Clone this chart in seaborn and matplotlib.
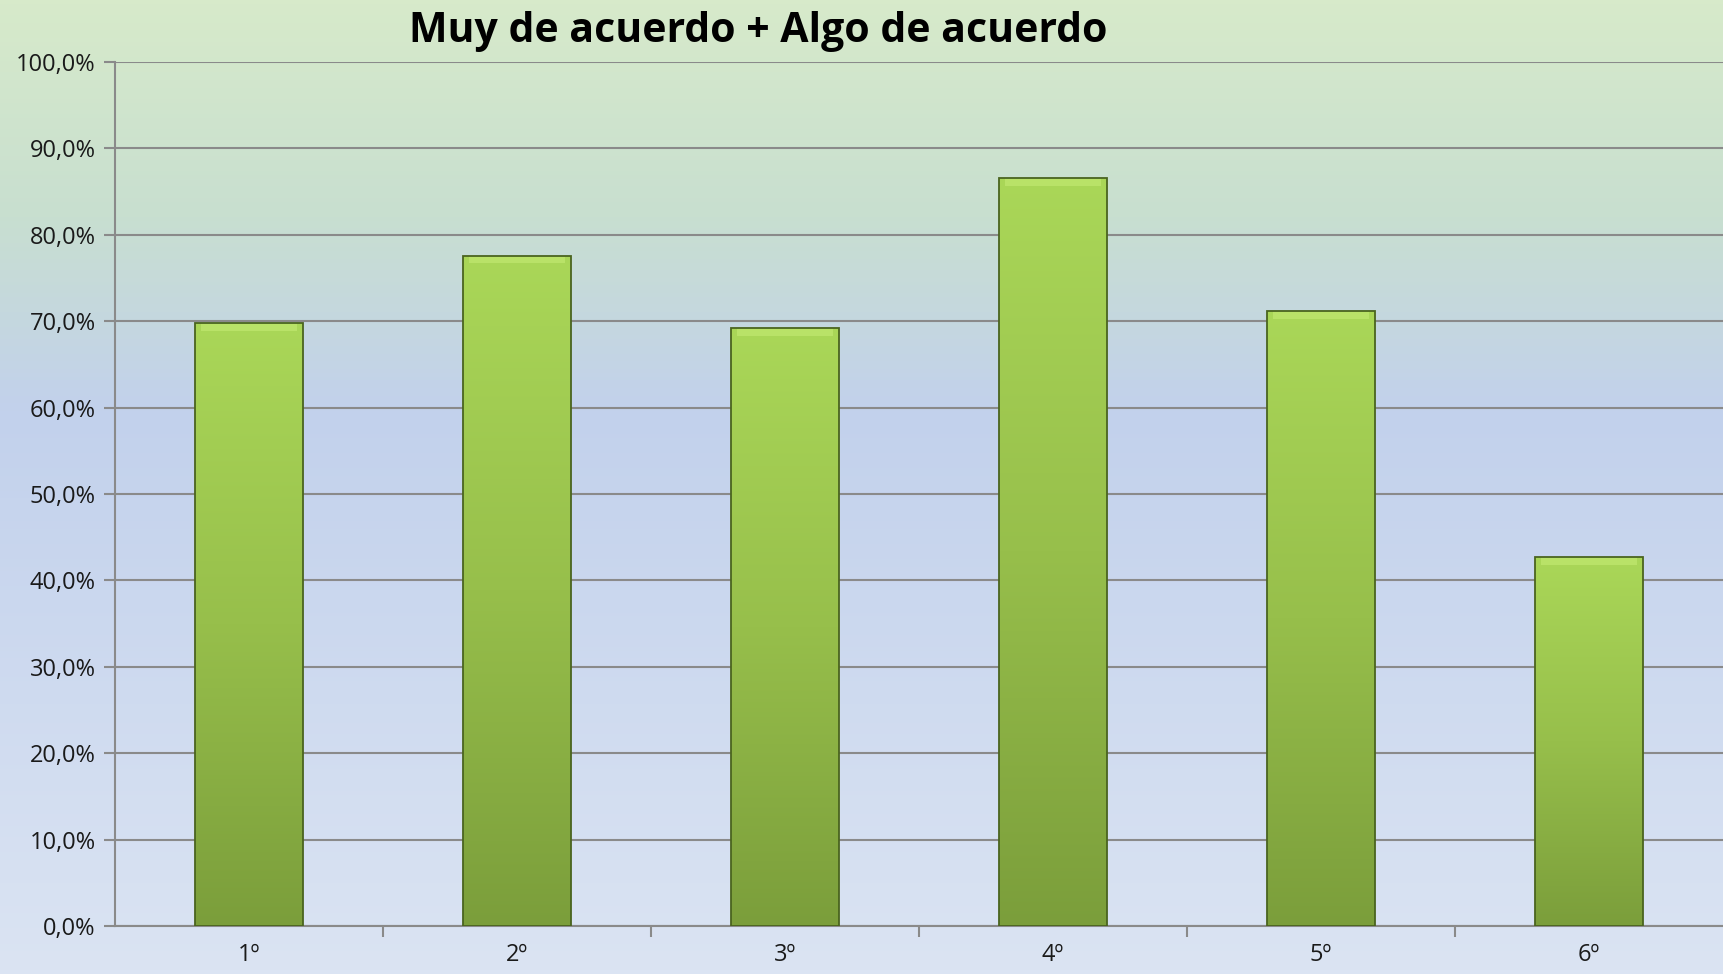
import numpy as np
import pandas as pd
import seaborn as sns
import matplotlib.pyplot as plt
from matplotlib.colors import LinearSegmentedColormap
from matplotlib.ticker import FuncFormatter, FixedLocator

# datos
cursos = ["1º", "2º", "3º", "4º", "5º", "6º"]
porcentajes = [69.8, 77.6, 69.2, 86.6, 71.2, 42.7]
titulo = "Muy de acuerdo + Algo de acuerdo"
marcas_y = list(range(0, 101, 10))

df = pd.DataFrame({"curso": cursos, "pct": porcentajes})

sns.set_theme(style="white")
plt.rcParams["font.family"] = ["Open Sans", "DejaVu Sans"]

fig = plt.figure(figsize=(17.23, 9.74), dpi=100)

# fondo degradado de toda la figura
bg = fig.add_axes([0, 0, 1, 1], zorder=0)
bg_cmap = LinearSegmentedColormap.from_list(
    "bg", [(0, "#d7eaca"), (0.22, "#c8dfd0"), (0.42, "#c2d1ec"), (1, "#dbe4f3")]
)
bg.imshow(np.linspace(0, 1, 256).reshape(-1, 1), aspect="auto", cmap=bg_cmap)
bg.axis("off")

ax = fig.add_axes([115 / 1723, 48 / 974, 1 - 115 / 1723, 864 / 974], zorder=1)
ax.patch.set_alpha(0)

sns.barplot(data=df, x="curso", y="pct", ax=ax, width=0.4, color="#98c44a",
            edgecolor="#4a641f", linewidth=1.3, zorder=3)

bar_cmap = LinearSegmentedColormap.from_list("bar", ["#aad758", "#97bf4b", "#7b9e3b"])
grad = np.linspace(0, 1, 256).reshape(-1, 1)
for p in ax.patches:
    x, w, h = p.get_x(), p.get_width(), p.get_height()
    im = ax.imshow(grad, extent=[x, x + w, 0, h], cmap=bar_cmap, aspect="auto", zorder=3)
    im.set_clip_path(p)
    # brillo del bisel superior
    ax.bar(x + w / 2, 0.9, bottom=h - 0.9, width=w * 0.9,
           color="#b9e268", linewidth=0, zorder=3.5)
    p.set_facecolor("none")
    p.set_zorder(4)

ax.set_xlim(-0.5, len(cursos) - 0.5)
ax.set_ylim(0, 100)
ax.yaxis.set_major_locator(FixedLocator(marcas_y))
ax.yaxis.set_major_formatter(FuncFormatter(lambda v, _: f"{v:.1f}%".replace(".", ",")))
ax.xaxis.set_minor_locator(FixedLocator(np.arange(0.5, len(cursos) - 0.5, 1)))

ax.grid(axis="y", color="#8a8a8a", linewidth=1.5, zorder=1)
ax.set_axisbelow(True)
ax.set_xlabel("")
ax.set_ylabel("")
for s in ["top", "right"]:
    ax.spines[s].set_visible(False)
for s in ["left", "bottom"]:
    ax.spines[s].set_color("#8a8a8a")
    ax.spines[s].set_linewidth(1.5)

ax.tick_params(axis="y", which="major", length=8, width=1.5, color="#8a8a8a",
               labelsize=17, labelcolor="#1a1a1a", pad=6, left=True)
ax.tick_params(axis="x", which="major", length=0, labelsize=17, labelcolor="#1a1a1a", pad=12)
ax.tick_params(axis="x", which="minor", length=8, width=1.5, color="#8a8a8a", bottom=True)

fig.text(758 / 1723, 1 - 32 / 974, titulo, ha="center", va="center",
         fontsize=29.5, fontweight="bold", color="#000000")

fig.savefig("out.png", dpi=100)
